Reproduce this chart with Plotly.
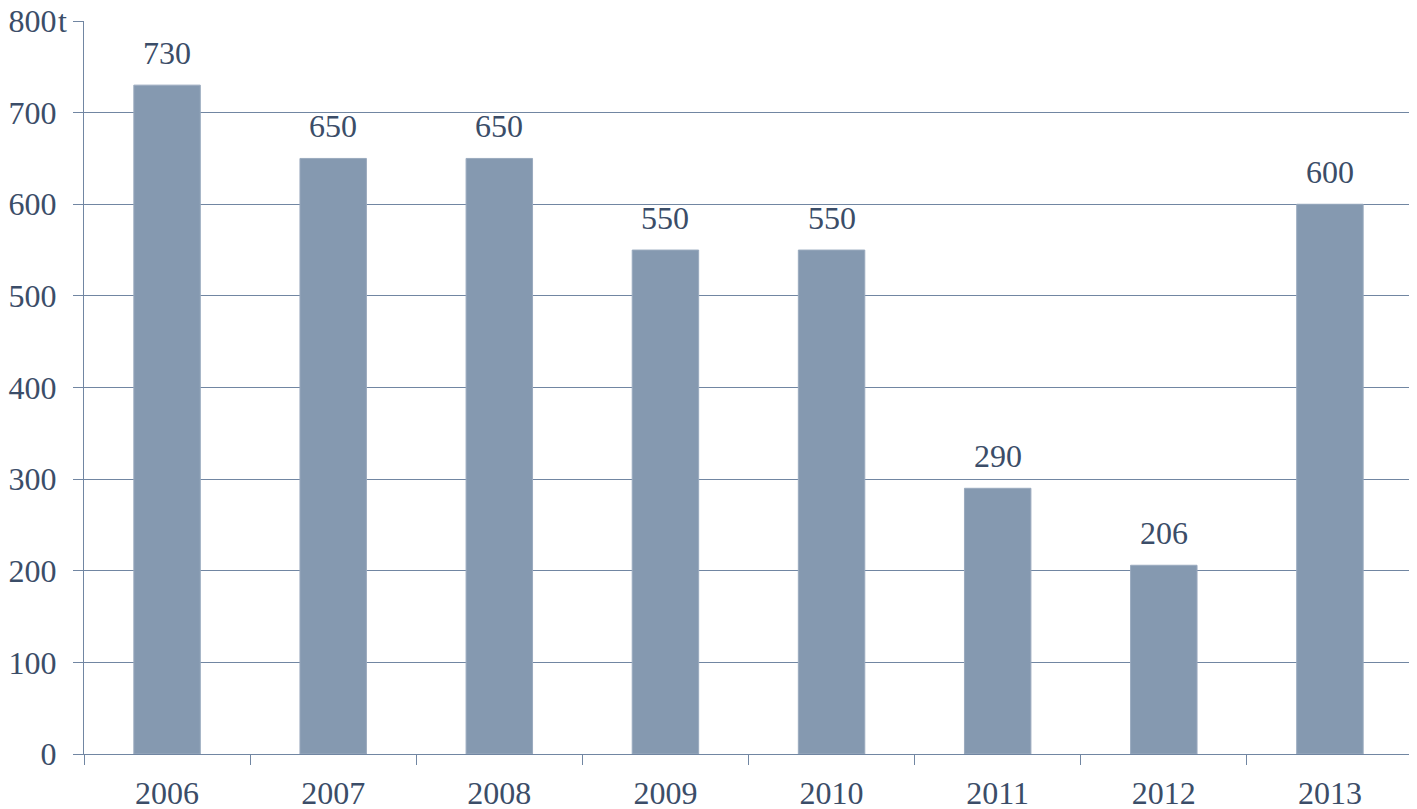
import plotly.graph_objects as go

years = ["2006", "2007", "2008", "2009", "2010", "2011", "2012", "2013"]
values = [730, 650, 650, 550, 550, 290, 206, 600]
y_ticks = [0, 100, 200, 300, 400, 500, 600, 700, 800]
y_ticktext = ["0", "100", "200", "300", "400", "500", "600", "700", "800"]
unit = "t"

FONT = "Liberation Serif"
TXT = "#3b4d68"
GRID = "#7186a2"
BAR = "#8599b0"

fig = go.Figure()
fig.add_trace(go.Bar(
    x=years, y=values,
    marker=dict(color=BAR, line=dict(color="#9aaabe", width=1)),
    hoverinfo="skip",
))

for i, v in enumerate(values):
    fig.add_annotation(x=i, y=v, text=str(v), showarrow=False,
                       yanchor="bottom", yshift=12,
                       font=dict(family=FONT, size=32, color=TXT))

fig.add_annotation(xref="paper", yref="y", x=0, y=800, xshift=-15,
                   text=unit, showarrow=False, xanchor="right", yanchor="middle",
                   font=dict(family=FONT, size=32, color=TXT))

fig.update_layout(
    width=1417, height=809,
    margin=dict(l=76, r=12, t=13, b=63, autoexpand=False),
    plot_bgcolor="white", paper_bgcolor="white",
    bargap=0.6,
    showlegend=False,
    font=dict(family=FONT, size=32, color=TXT),
)
fig.update_xaxes(
    type="category", range=[-0.5, 7.5], automargin=False,
    tickson="boundaries", ticks="outside", ticklen=10, tickcolor=GRID, tickwidth=1,
    showline=True, linecolor=GRID, linewidth=1,
    showgrid=False, ticklabelstandoff=11,
    tickfont=dict(family=FONT, size=32, color=TXT),
)
fig.update_yaxes(
    range=[0, 800], tickvals=y_ticks, ticktext=y_ticktext, automargin=False,
    ticks="outside", ticklen=10, tickcolor=GRID, tickwidth=1,
    showline=True, linecolor=GRID, linewidth=1,
    showgrid=True, gridcolor=GRID, gridwidth=1, zeroline=False,
    ticklabelstandoff=10, ticklabeloverflow="allow",
    tickfont=dict(family=FONT, size=32, color=TXT),
)

fig.write_html("out.html")
